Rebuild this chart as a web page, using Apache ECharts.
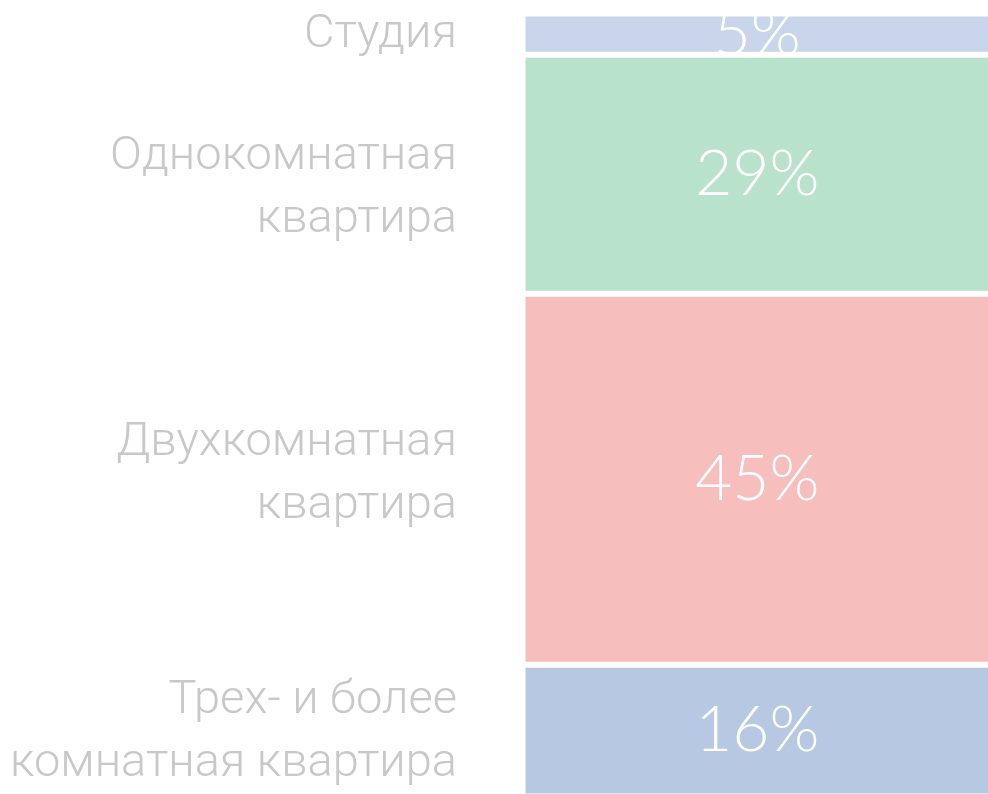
<!DOCTYPE html>
<html>
<head>
<meta charset="utf-8">
<script src="https://cdn.jsdelivr.net/npm/echarts@6/dist/echarts.min.js"></script>
<style>
  html, body { margin: 0; padding: 0; background: #fff; overflow: hidden; }
  #main { width: 1000px; height: 800px; }
</style>
</head>
<body>
<div id="main"></div>
<script>
// типы квартир и доли (%)
var names = ['Студия', 'Однокомнатная\nквартира', 'Двухкомнатная\nквартира', 'Трех- и более\nкомнатная квартира'];
var values = [5, 29, 45, 16];
var colors = ['#c8d5ea', '#b8e2cb', '#f6bebd', '#b7c8e2'];
// сдвиг подписей слева по вертикали
var nameOffsets = [1, 15, -4, 2];

// холст чуть больше окна, чтобы столбец уходил за правый и нижний край
var myChart = echarts.init(document.getElementById('main'));

var total = 0;
for (var i = 0; i < values.length; i++) total += values[i];

var series = [];
// видимые сегменты с процентами
for (var i = 0; i < values.length; i++) {
    series.push({
        type: 'bar',
        stack: 'a',
        barWidth: '100%',
        barGap: '-100%',
        data: [values[i]],
        itemStyle: { color: colors[i], borderColor: '#fff', borderWidth: 3 },
        label: {
            show: true,
            position: 'inside',
            formatter: values[i] + '%',
            color: '#fff',
            fontFamily: 'Lato',
            fontWeight: 300,
            fontSize: 64,
            textBorderWidth: 0
        },
        silent: true
    });
}
// прозрачные сегменты для подписей слева
for (var i = 0; i < values.length; i++) {
    series.push({
        type: 'bar',
        stack: 'b',
        barWidth: '100%',
        barGap: '-100%',
        data: [values[i]],
        itemStyle: { color: 'rgba(0,0,0,0)' },
        label: {
            show: true,
            position: 'left',
            distance: 65.5,
            offset: [0, nameOffsets[i]],
            formatter: names[i],
            align: 'right',
            color: '#c8c8c8',
            fontFamily: 'Roboto',
            fontWeight: 300,
            fontSize: 47,
            lineHeight: 63
        },
        silent: true
    });
}

var option = {
    animation: false,
    grid: { left: 522.5, right: 8, top: 13.5, bottom: 3.5 },
    xAxis: { type: 'category', data: [''], show: false },
    yAxis: { type: 'value', min: 0, max: total, inverse: true, show: false },
    series: series
};

myChart.setOption(option);
</script>
</body>
</html>
